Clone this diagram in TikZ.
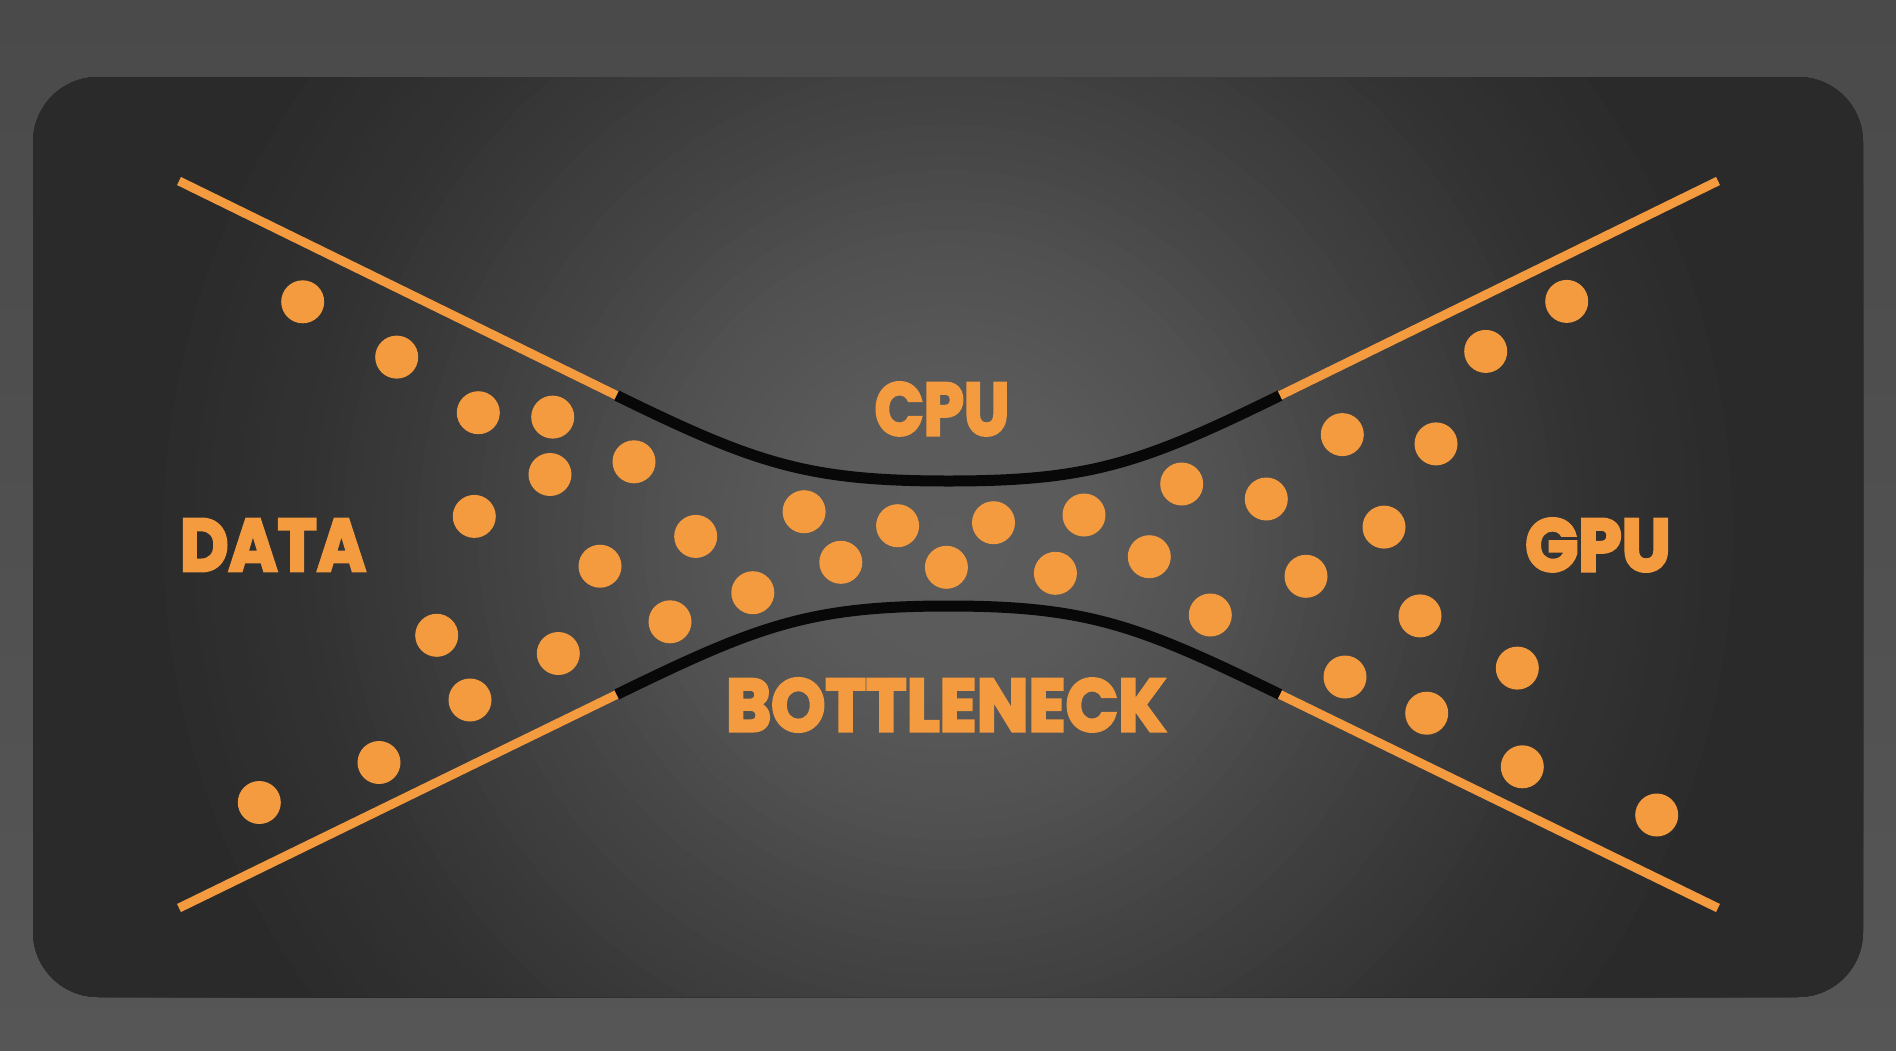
\documentclass[tikz,border=0pt]{standalone}
\usepackage{fontspec}
\newfontfamily\pop{Poppins}[BoldFeatures={FakeBold=4}]
\definecolor{bgtop}{HTML}{4A4A4A}
\definecolor{bgbot}{HTML}{565656}
\definecolor{orng}{HTML}{F49A3F}
\definecolor{blk}{HTML}{080808}
\definecolor{edge}{HTML}{2A2A2A}
\tikzset{
  oline/.style={draw=orng, line width=4.5pt, line cap=butt},
  bline/.style={draw=blk, line width=5.5pt, line cap=butt},
  dot/.style={circle, fill=orng, draw=none, inner sep=0pt, minimum size=21.5pt},
  label/.style={text=orng, inner sep=0pt, font=\pop\bfseries\fontsize{37pt}{40pt}\selectfont}
}
\begin{document}
\begin{tikzpicture}[x=0.5pt,y=-0.5pt]
\shade[top color=bgtop, bottom color=bgbot] (0,0) rectangle (1896,1050);
\useasboundingbox (0,0) rectangle (1896,1050);
\begin{scope}
  \clip[rounded corners=32.5pt] (33,77) rectangle (1863,997);
  \fill[edge] (33,77) rectangle (1863,997);
  \foreach \d in {1040,1025,...,0} {
    \pgfmathsetmacro{\ga}{93-(\d/150)*3}
    \pgfmathsetmacro{\gb}{90-((\d-150)/150)*10}
    \pgfmathsetmacro{\gc}{80-((\d-300)/150)*14}
    \pgfmathsetmacro{\gd}{66-((\d-450)/200)*16}
    \pgfmathsetmacro{\ge}{50-((\d-650)/150)*7}
    \pgfmathsetmacro{\g}{(\d<150 ? \ga : (\d<300 ? \gb : (\d<450 ? \gc : (\d<650 ? \gd : (\d<800 ? \ge : 42)))))/255}
    \pgfmathsetmacro{\rr}{max(\d*0.5,0.01)}
    \definecolor{cc}{gray}{\g}
    \fill[cc] (948,535) circle[radius=\rr pt];
  }
\end{scope}
% funnel lines
\coordinate (tl) at (179,181);
\coordinate (tj1) at (616.7,395.5);
\coordinate (tm) at (948.5,481);
\coordinate (tj2) at (1280,395.5);
\coordinate (tr) at (1718,181);
\coordinate (bl) at (179,908);
\coordinate (bj1) at (616.7,694.5);
\coordinate (bm) at (948.5,606);
\coordinate (bj2) at (1280,694.5);
\coordinate (br) at (1718,908);
\draw[oline] (tl) -- (tj1);
\draw[bline] (tj1) .. controls (756.7,464.2) and (808.5,481) .. (tm) .. controls (1088.5,481) and (1140,464.2) .. (tj2);
\draw[oline] (tj2) -- (tr);
\draw[oline] (bl) -- (bj1);
\draw[bline] (bj1) .. controls (756.7,626.2) and (808.5,606) .. (bm) .. controls (1088.5,606) and (1140,626.2) .. (bj2);
\draw[oline] (bj2) -- (br);
% dots
\foreach \x/\y [count=\i] in {
  302.7/301.8, 396.7/357.1, 478.3/412.7, 552.7/417.1, 550/474.5, 634/461.8,
  474.3/516.4, 600/566.2, 695.7/536.4, 670/621.8, 436.7/635.3, 558.3/653.5,
  470/700, 379/762.5, 259.3/802.5,
  804.1/511.7, 840.8/562.3, 752.8/592.7, 897.6/525.7, 946.4/567.3, 993.5/522.7,
  1084/515, 1055.4/573.3, 1149.3/556.7, 1181.7/484, 1266.3/499, 1210.3/615, 1306/576.3,
  1566.7/301.4, 1485.7/351.4, 1342.3/434.6, 1436/443.9, 1384/527.1, 1420/615.9,
  1517.3/668.1, 1345/677, 1426.7/713.2, 1522.3/766.8, 1656.7/815}
  \node[dot] (d\i) at (\x,\y) {};
% labels
\node[label] (data) at (273,545) {\scalebox{0.9}[1]{DATA}};
\node[label] (cpu) at (942,409) {\scalebox{0.87}[1]{CPU}};
\node[label] (bott) at (946,705) {\scalebox{0.93}[1]{BOTTLENECK}};
\node[label] (gpu) at (1598,545) {\scalebox{0.94}[1]{GPU}};
\end{tikzpicture}
\end{document}
